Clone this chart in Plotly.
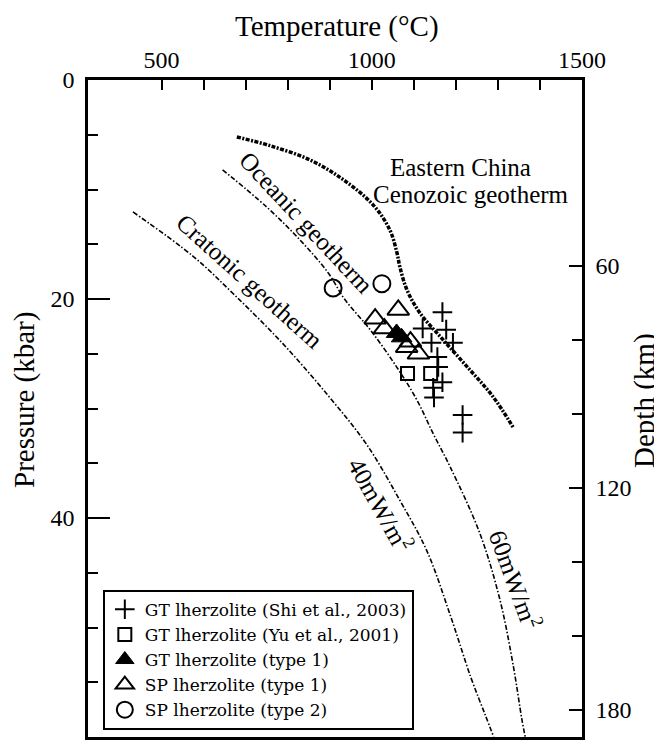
import plotly.graph_objects as go

# ---------------- data ----------------
shi_T = [1168, 1121, 1177, 1193, 1142, 1156, 1158, 1168, 1146, 1148, 1216, 1216]
shi_P = [21.2, 22.7, 22.8, 24.0, 24.0, 25.3, 26.2, 27.6, 28.1, 29.0, 30.6, 32.2]

yu_T = [1085, 1140]
yu_P = [26.8, 26.8]

gt1_T = [1059, 1071]
gt1_P = [23.1, 23.5]

sp1_T = [1008, 1063, 1030, 1092, 1083, 1111]
sp1_P = [21.8, 21.0, 22.7, 23.9, 24.4, 25.0]

sp2_T = [908, 1024]
sp2_P = [19.0, 18.6]

east_T = [679, 758, 853, 932, 1003, 1043, 1060, 1067, 1084, 1115, 1169, 1234, 1288, 1336]
east_P = [5.2, 6.0, 7.3, 9.1, 11.4, 13.7, 15.8, 17.1, 19.2, 21.3, 23.7, 26.5, 28.9, 31.7]

ocean_T = [645, 750, 829, 897, 935, 996, 1059, 1107, 1146, 1186, 1257, 1305, 1337, 1357, 1365]
ocean_P = [8.2, 11.6, 14.6, 17.65, 20.0, 22.8, 26.2, 29.2, 32.3, 35.3, 41.4, 47.5, 53.6, 58.4, 60.0]

craton_T = [432, 575, 670, 789, 900, 988, 1067, 1131, 1186, 1236, 1270, 1290]
craton_P = [12.05, 16.1, 19.5, 24.1, 29.0, 33.3, 38.4, 43.0, 48.8, 54.6, 58.0, 60.0]

temp_ticks = [500, 600, 700, 800, 900, 1000, 1100, 1200, 1300, 1400, 1500]
temp_labels = ["500", "", "", "", "", "1000", "", "", "", "", "1500"]
press_ticks = [0, 20, 40, 60]
depth_ticks = [60, 120, 180]
depth_minor = [80, 100, 140, 160]

FONT = "Liberation Serif"

fig = go.Figure()

line_thin = dict(color="black", width=1.6, dash="5px,2px,1.5px,2px")
fig.add_trace(go.Scatter(x=craton_T, y=craton_P, mode="lines", line=line_thin,
                         line_shape="spline", showlegend=False, hoverinfo="skip"))
fig.add_trace(go.Scatter(x=ocean_T, y=ocean_P, mode="lines", line=line_thin,
                         line_shape="spline", showlegend=False, hoverinfo="skip"))
fig.add_trace(go.Scatter(x=east_T, y=east_P, mode="lines",
                         line=dict(color="black", width=3.5, dash="4px,1.5px,2px,1.5px"),
                         line_shape="spline", showlegend=False, hoverinfo="skip"))

fig.add_trace(go.Scatter(x=shi_T, y=shi_P, mode="markers", name="GT lherzolite (Shi et al., 2003)",
                         marker=dict(symbol="cross-thin", size=14, color="black",
                                     line=dict(color="black", width=2))))
fig.add_trace(go.Scatter(x=yu_T, y=yu_P, mode="markers", name="GT lherzolite (Yu et al., 2001)",
                         marker=dict(symbol="square-open", size=13, color="black",
                                     line=dict(color="black", width=2))))
fig.add_trace(go.Scatter(x=gt1_T, y=gt1_P, mode="markers", name="GT lherzolite (type 1)",
                         marker=dict(symbol="triangle-up", size=18, color="black",
                                     line=dict(color="black", width=1))))
fig.add_trace(go.Scatter(x=sp1_T, y=sp1_P, mode="markers", name="SP lherzolite (type 1)",
                         marker=dict(symbol="triangle-up-open", size=19, color="black",
                                     line=dict(color="black", width=2))))
fig.add_trace(go.Scatter(x=sp2_T, y=sp2_P, mode="markers", name="SP lherzolite (type 2)",
                         marker=dict(symbol="circle-open", size=17, color="black",
                                     line=dict(color="black", width=2))))
# anchor trace for the depth axis
fig.add_trace(go.Scatter(x=[None], y=[None], yaxis="y2", showlegend=False, hoverinfo="skip"))

ann_font = dict(family=FONT, size=25, color="black")
fig.add_annotation(x=1212, y=8.0, text="Eastern China", showarrow=False, font=ann_font)
fig.add_annotation(x=1235, y=10.5, text="Cenozoic geotherm", showarrow=False, font=ann_font)
fig.add_annotation(x=844, y=13.0, text="Oceanic geotherm", showarrow=False, font=ann_font, textangle=47)
fig.add_annotation(x=710, y=18.4, text="Cratonic geotherm", showarrow=False, font=ann_font, textangle=42)
fig.add_annotation(x=1022, y=38.7, text="40mW/m<sup>2</sup>", showarrow=False, font=ann_font, textangle=61)
fig.add_annotation(x=1342, y=45.6, text="60mW/m<sup>2</sup>", showarrow=False, font=ann_font, textangle=70)

# axis titles
title_font = dict(family=FONT, size=29, color="black")
fig.add_annotation(xref="paper", yref="paper", x=0.504, y=1.082, text="Temperature (°C)",
                   showarrow=False, font=title_font, xanchor="center", yanchor="middle")
fig.add_annotation(xref="paper", yref="paper", x=-0.1275, y=0.513, text="Pressure (kbar)",
                   showarrow=False, font=title_font, textangle=-90, xanchor="center", yanchor="middle")
fig.add_annotation(xref="paper", yref="paper", x=1.1275, y=0.513, text="Depth (km)",
                   showarrow=False, font=title_font, textangle=-90, xanchor="center", yanchor="middle")

axis_common = dict(showline=True, linecolor="black", linewidth=2.5, showgrid=False,
                   zeroline=False, ticks="inside", tickcolor="black", tickwidth=2,
                   automargin=False)

fig.update_layout(
    width=654, height=736,
    margin=dict(l=80, r=80, t=72, b=7, autoexpand=False),
    paper_bgcolor="white", plot_bgcolor="white",
    font=dict(family=FONT, size=24, color="black"),
    xaxis=dict(**axis_common, side="top", range=[325, 1500], mirror=True,
               tickvals=temp_ticks, ticktext=temp_labels, ticklen=10,
               tickfont=dict(size=24)),
    yaxis=dict(**axis_common, range=[60, 0], tickvals=press_ticks, ticklen=22,
               minor=dict(dtick=5, ticklen=10, ticks="inside", tickcolor="black", tickwidth=2),
               tickfont=dict(size=24), ticklabelstandoff=6),
    yaxis2=dict(**axis_common, overlaying="y", side="right", range=[187.3, 9.7],
                tickvals=depth_ticks, ticklen=13,
                minor=dict(tickvals=depth_minor, ticklen=10, ticks="inside",
                           tickcolor="black", tickwidth=2),
                tickfont=dict(size=24), ticklabelstandoff=6),
    legend=dict(x=0.03, y=0.011, xanchor="left", yanchor="bottom",
                bgcolor="white", bordercolor="black", borderwidth=2,
                font=dict(family="DejaVu Serif", size=17), tracegroupgap=0),
)

fig.write_html("out.html")
